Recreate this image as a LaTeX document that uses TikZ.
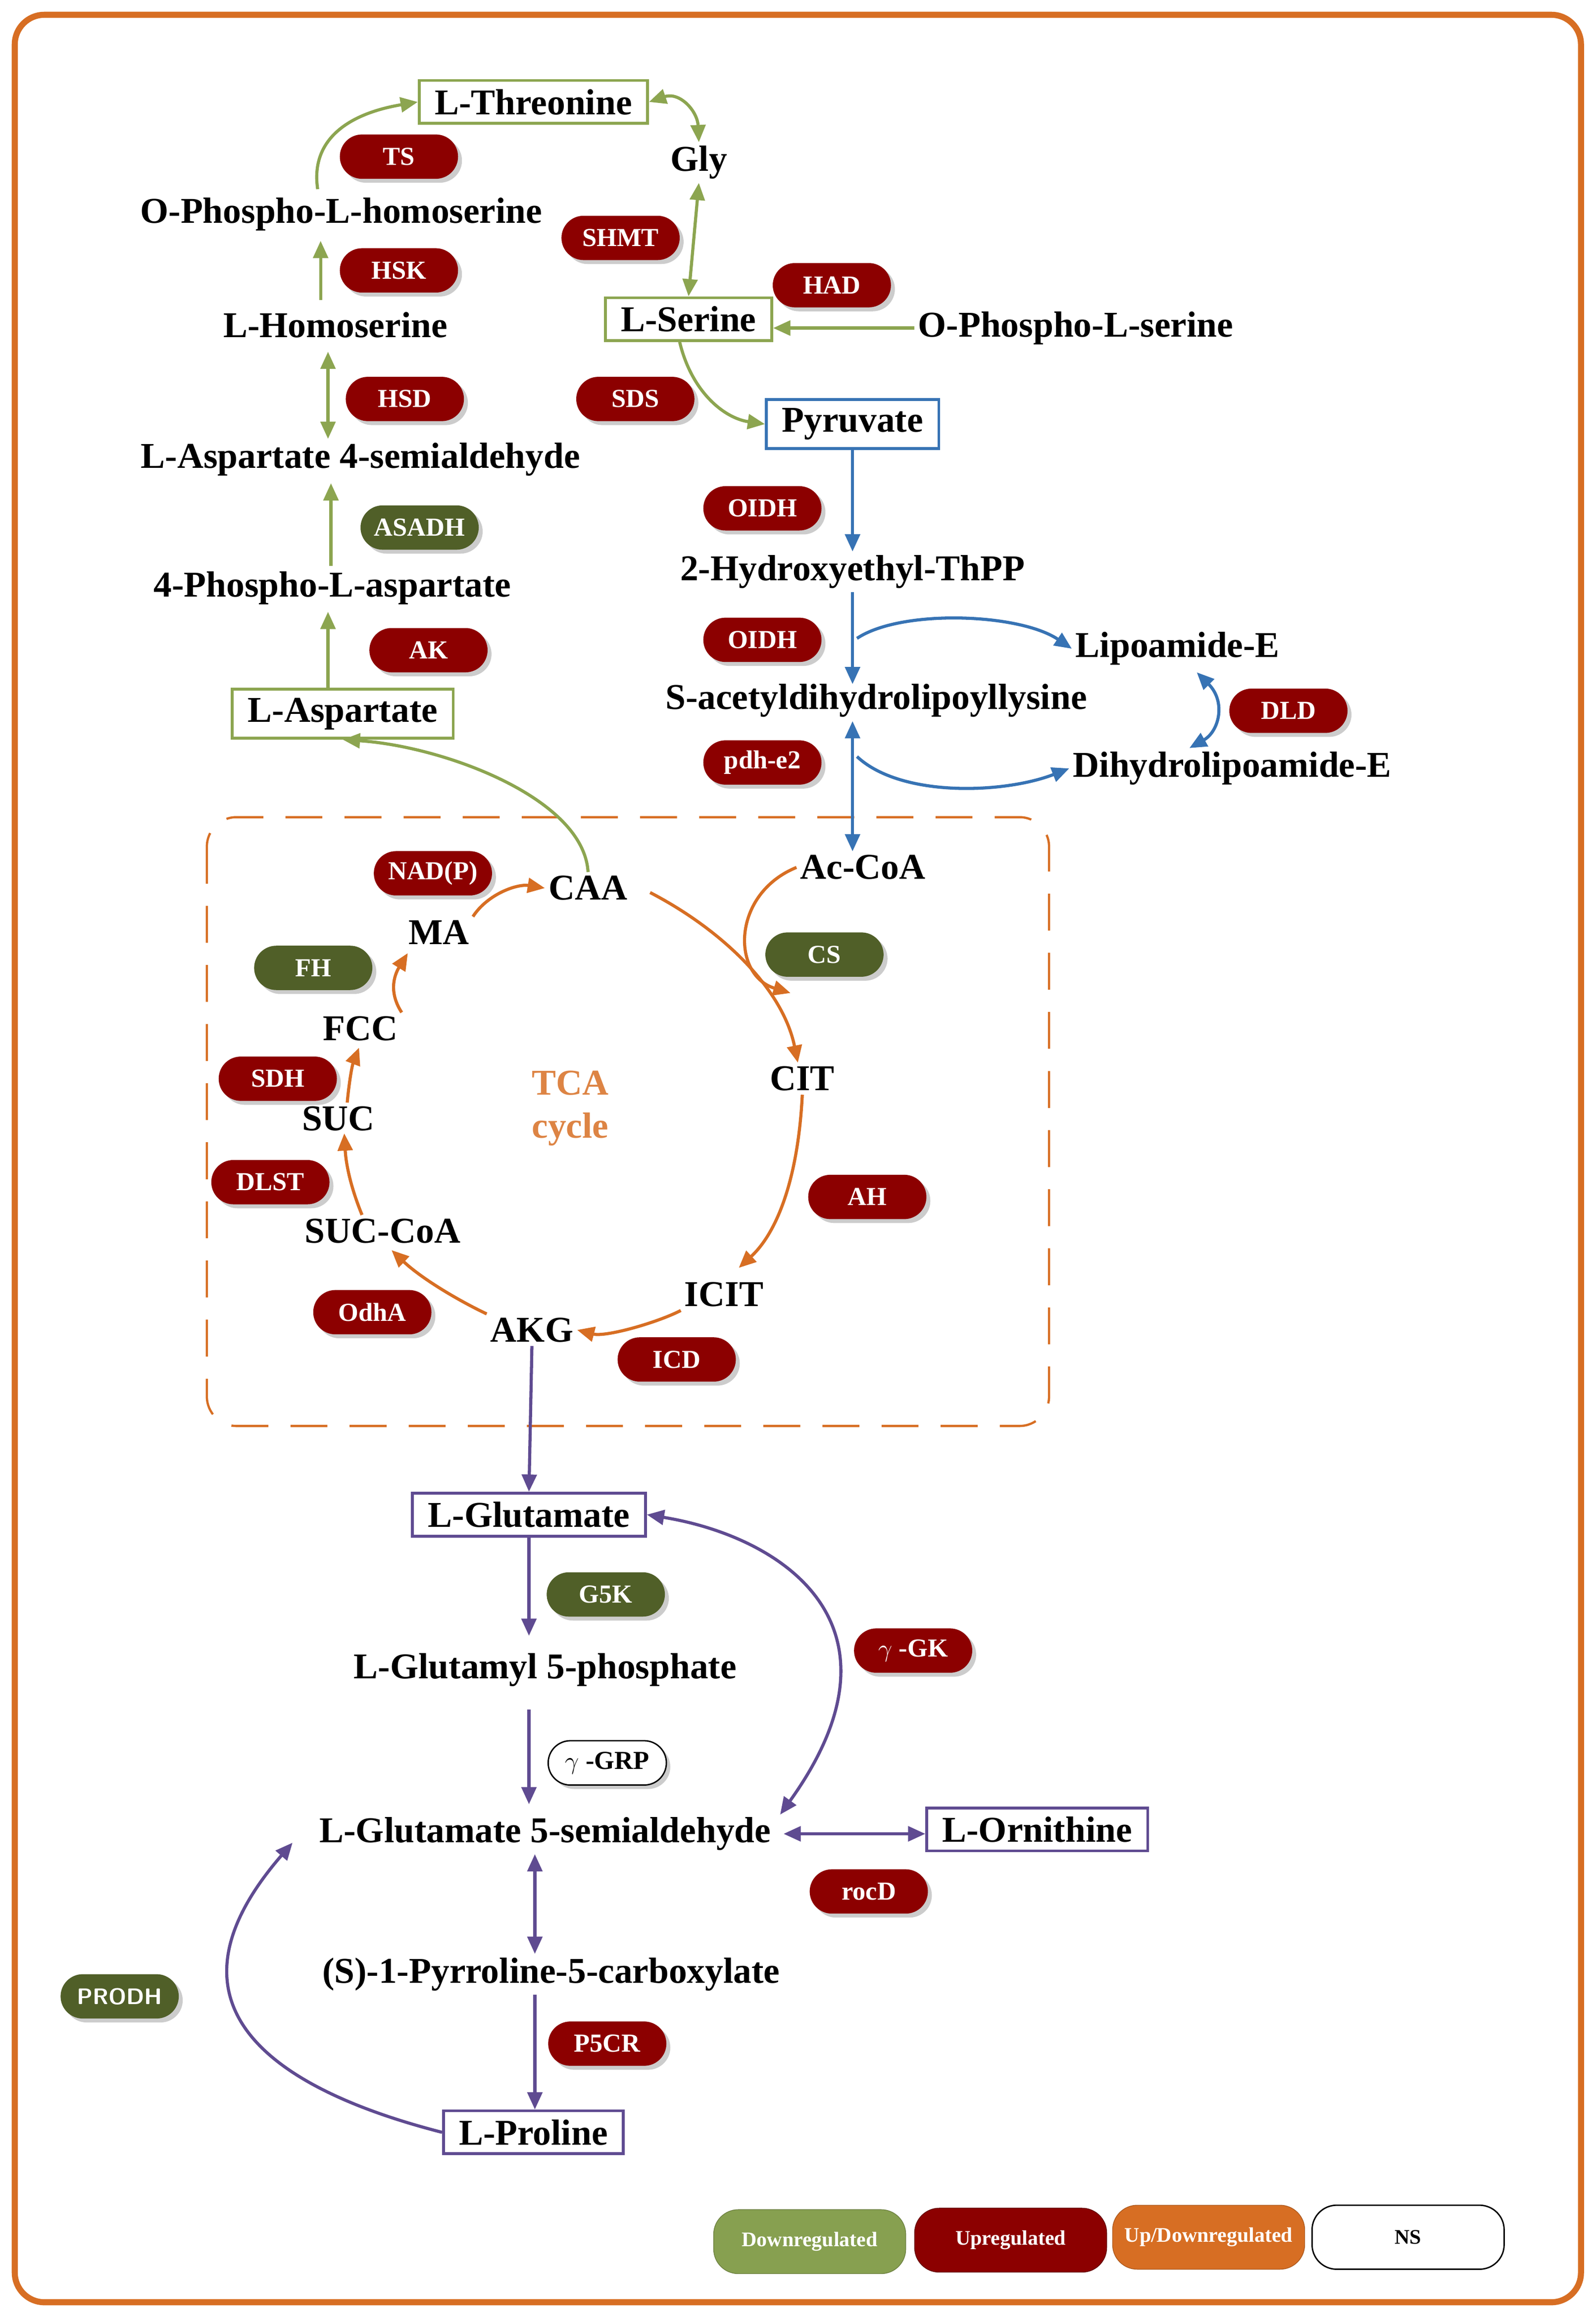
\documentclass[tikz,border=0pt]{standalone}
\usepackage{fontspec}
\setmainfont{Liberation Serif}
\usetikzlibrary{arrows.meta,shadows}
\definecolor{gr}{RGB}{140,165,80}
\definecolor{bl}{RGB}{55,115,180}
\definecolor{orc}{RGB}{215,110,35}
\definecolor{pu}{RGB}{95,75,145}
\definecolor{up}{RGB}{140,0,0}
\definecolor{dn}{RGB}{80,95,40}
\definecolor{lg}{RGB}{135,160,80}
\begin{document}
\begin{tikzpicture}[x=0.03cm,y=-0.03cm,
 lab/.style={font=\fontsize{21}{24}\selectfont\bfseries,inner sep=2pt},
 box/.style={lab,draw,line width=1.6pt,inner xsep=9pt,inner ysep=5pt},
 pill/.style={rounded corners=0.45cm,minimum width=2.4cm,minimum height=0.9cm,text=white,
   font=\fontsize{15}{17}\selectfont\bfseries,drop shadow={shadow xshift=0.08cm,shadow yshift=-0.08cm,opacity=0.4}},
 U/.style={pill,fill=up},
 D/.style={pill,fill=dn},
 tip/.style={-{Triangle[length=0.35cm,width=0.3cm]}},
 bb/.style={{Triangle[length=0.35cm,width=0.3cm]}-{Triangle[length=0.35cm,width=0.3cm]}},
 ga/.style={draw=gr,line width=1.8pt,tip},
 ba/.style={draw=bl,line width=1.8pt,tip},
 oa/.style={draw=orc,line width=1.8pt,tip},
 pa/.style={draw=pu,line width=1.8pt,tip},
 leg/.style={rounded corners=0.5cm,minimum width=3.9cm,minimum height=1.3cm,font=\fontsize{12}{14}\selectfont\bfseries}]
\useasboundingbox (0,0) rectangle (1080,1568);
\draw[orc,line width=3.5pt,rounded corners=0.6cm] (10,10) rectangle (1070,1558);
\draw[orc,line width=1.3pt,dash pattern=on 0.75cm off 0.45cm,rounded corners=0.6cm] (140,553) rectangle (710,965);
% nodes
\node[box,draw=gr] (thr) at (361,69) {L-Threonine};
\node[lab] (gly) at (473,110) {Gly};
\node[lab] (oph) at (231,145) {O-Phospho-L-homoserine};
\node[lab] (hom) at (227,220) {L-Homoserine};
\node[box,draw=gr] (ser) at (466,216) {L-Serine};
\node[lab] (ops) at (728,222) {O-Phospho-L-serine};
\node[box,draw=bl] (pyr) at (577,287) {Pyruvate};
\node[lab] (asa) at (244,311) {L-Aspartate 4-semialdehyde};
\node[lab] (pas) at (225,398) {4-Phospho-L-aspartate};
\node[lab] (hth) at (577,387) {2-Hydroxyethyl-ThPP};
\node[lab] (lip) at (797,439) {Lipoamide-E};
\node[lab] (sac) at (593,474) {S-acetyldihydrolipoyllysine};
\node[box,draw=gr] (asp) at (232,483) {L-Aspartate};
\node[lab] (dih) at (834,520) {Dihydrolipoamide-E};
\node[lab] (acc) at (584,587) {Ac-CoA};
\node[lab] (caa) at (398,601) {CAA};
\node[lab] (ma) at (297,631) {MA};
\node[lab] (fcc) at (244,696) {FCC};
\node[lab] (cit) at (543,730) {CIT};
\node[lab] (suc) at (229,757) {SUC};
\node[lab] (sca) at (259,833) {SUC-CoA};
\node[lab] (icit) at (490,876) {ICIT};
\node[lab] (akg) at (360,900) {AKG};
\node[font=\fontsize{21}{24}\selectfont\bfseries,text=orc!85,align=center] (tca) at (386,750) {TCA\\[1pt]cycle};
\node[box,draw=pu] (glu) at (358,1025) {L-Glutamate};
\node[lab] (g5p) at (369,1130) {L-Glutamyl 5-phosphate};
\node[lab] (gsa) at (369,1241) {L-Glutamate 5-semialdehyde};
\node[box,draw=pu] (orn) at (702,1238) {L-Ornithine};
\node[lab] (p5c) at (373,1336) {(S)-1-Pyrroline-5-carboxylate};
\node[box,draw=pu] (pro) at (361,1443) {L-Proline};
% enzymes
\node[U] (e1) at (270,106) {TS};
\node[U] (e2) at (270,183) {HSK};
\node[U] (e3) at (420,161) {SHMT};
\node[U] (e4) at (563,193) {HAD};
\node[U] (e5) at (274,270) {HSD};
\node[U] (e6) at (430,270) {SDS};
\node[D] (e7) at (284,357) {ASADH};
\node[U] (e8) at (516,344) {OIDH};
\node[U] (e9) at (516,433) {OIDH};
\node[U] (e10) at (290,440) {AK};
\node[U] (e11) at (872,481) {DLD};
\node[U] (e12) at (516,516) {pdh-e2};
\node[U] (e13) at (293,591) {NAD(P)};
\node[D] (e14) at (212,655) {FH};
\node[D] (e15) at (558,646) {CS};
\node[U] (e16) at (188,730) {SDH};
\node[U] (e17) at (183,800) {DLST};
\node[U] (e18) at (587,810) {AH};
\node[U] (e19) at (252,888) {OdhA};
\node[U] (e20) at (458,920) {ICD};
\node[D] (e21) at (410,1079) {G5K};
\node[U] (e22) at (618,1117) {$\gamma$ -GK};
\node[pill,draw=black,fill=white,text=black,line width=0.8pt] (e23) at (411,1193) {$\gamma$ -GRP};
\node[U] (e24) at (588,1280) {rocD};
\node[D,font=\fontsize{13}{15}\selectfont\sffamily\bfseries] (e25) at (81,1351) {PRODH};
\node[U] (e26) at (411,1383) {P5CR};
% legend
\node[leg,fill=lg,text=white,draw=lg!80!black] (l1) at (548,1517) {Downregulated};
\node[leg,fill=up,text=white,draw=up!70!black] (l2) at (684,1516) {Upregulated};
\node[leg,fill=orc,text=white,draw=orc!80!black] (l3) at (818,1514) {Up/Downregulated};
\node[leg,fill=white,draw=black,line width=0.8pt] (l4) at (953,1514) {NS};
% green arrows
\coordinate (c1) at (215,128);
\draw[ga] (c1) .. controls (210,95) and (235,77) .. (thr.west);
\draw[ga,bb] (thr.east) .. controls (460,62) and (472,75) .. (gly.north);
\coordinate (c2) at (217,203);
\draw[ga] (c2) -- (217,163);
\draw[ga,bb] (222,297) -- (222,238);
\draw[ga] (224,383) -- (224,327);
\draw[ga] (asp.north -| 222,0) -- (222,414);
\draw[ga,bb] (gly.south) -- (ser.north);
\draw[ga] (ops.west) -- (ser.east |- ops.west);
\draw[ga] (ser.south -| 460,0) .. controls (468,265) and (490,283) .. (pyr.west);
\draw[ga] (caa.north) .. controls (395,540) and (300,505) .. (asp.south);
% blue
\draw[ba] (pyr.south) -- (hth.north);
\draw[ba] (hth.south) -- (577,463);
\draw[ba] (580,432) .. controls (610,412) and (690,415) .. (lip.west);
\draw[ba,bb] (810,455) .. controls (830,475) and (825,495) .. (dih.north -| 805,0);
\draw[ba,bb] (577,488) -- (acc.north -| 577,0);
\draw[ba] (580,512) .. controls (610,540) and (680,537) .. (dih.west);
% orange cycle
\draw[oa] (440,604) .. controls (490,630) and (530,670) .. (cit.north -| 540,0);
\draw[oa] (acc.west) .. controls (495,605) and (495,660) .. (535,672);
\draw[oa] (cit.south) .. controls (540,800) and (525,835) .. (500,858);
\draw[oa] (icit.south west) .. controls (445,895) and (410,905) .. (akg.east);
\draw[oa] (akg.north west) .. controls (310,880) and (285,865) .. (265,846);
\draw[oa] (sca.north -| 245,0) .. controls (236,800) and (234,785) .. (233,767);
\draw[oa] (suc.north -| 235,0) .. controls (236,735) and (238,722) .. (243,709);
\draw[oa] (fcc.north east) .. controls (262,670) and (268,658) .. (276,645);
\draw[oa] (ma.north east) .. controls (330,605) and (350,598) .. (caa.west);
% purple
\draw[pa] (akg.south) -- (glu.north);
\draw[pa] (glu.south) -- (358,1107);
\draw[pa] (358,1157) -- (358,1221);
\draw[pa,bb] (gsa.east |- orn.west) ++(6,3) -- ([yshift=-0.09cm]orn.west);
\draw[pa,bb] (glu.east) .. controls (530,1040) and (620,1100) .. (528,1228);
\draw[pa,bb] (gsa.south -| 362,0) -- (p5c.north -| 362,0);
\draw[pa] (p5c.south -| 362,0) -- (pro.north -| 362,0);
\draw[pa] (pro.west) .. controls (190,1415) and (100,1360) .. (198,1247);
\end{tikzpicture}
\end{document}
